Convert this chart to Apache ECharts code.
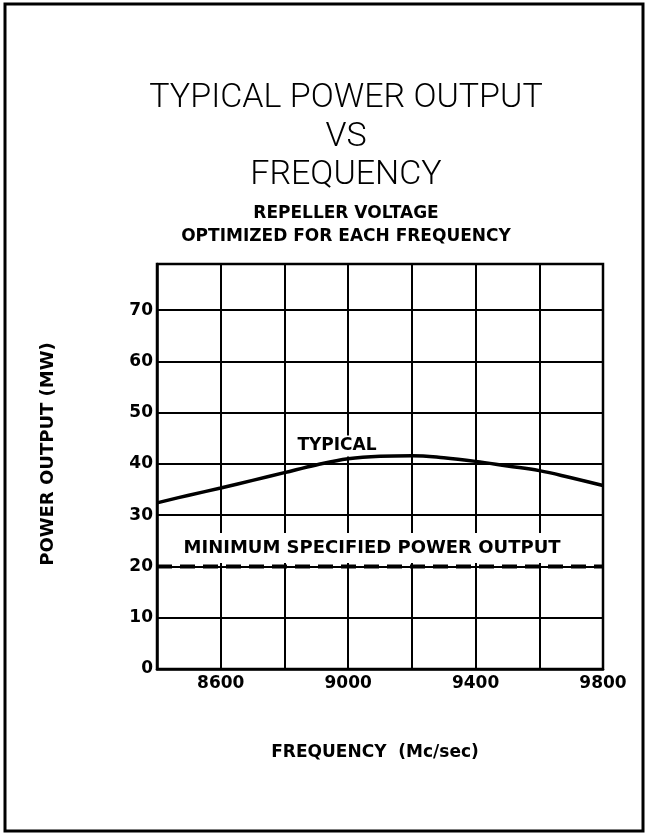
<!DOCTYPE html>
<html>
<head>
<meta charset="utf-8">
<script src="https://cdn.jsdelivr.net/npm/echarts@6/dist/echarts.min.js"></script>
<style>
html,body{margin:0;padding:0;background:#fff;}
#chart{width:648px;height:835px;}
</style>
</head>
<body>
<div id="chart"></div>
<script>
// Data
var typicalFreq = [8400, 8500, 8600, 8700, 8800, 8900, 9000, 9100, 9200, 9300, 9400, 9500, 9600, 9700, 9800];
var typicalPower = [32.4, 33.9, 35.3, 36.8, 38.3, 39.8, 41.0, 41.5, 41.6, 41.2, 40.5, 39.6, 38.7, 37.3, 35.8];
var minFreq = [8400, 9800];
var minPower = [20, 20];
var xTickLabels = [8600, 9000, 9400, 9800];
var yTickLabels = [0, 10, 20, 30, 40, 50, 60, 70];
var titleLines = ['TYPICAL POWER OUTPUT', 'VS', 'FREQUENCY'];
var subtitleLines = ['REPELLER VOLTAGE', 'OPTIMIZED FOR EACH FREQUENCY'];
var yAxisTitle = 'POWER OUTPUT (MW)';
var xAxisTitle = 'FREQUENCY  (Mc/sec)';
var typicalLabel = {text: 'TYPICAL', freq: 8965, power: 43.5};
var minLabel = {text: 'MINIMUM SPECIFIED POWER OUTPUT', freq: 9075, power: 23.6};

var chart = echarts.init(document.getElementById('chart'), null, {renderer: 'canvas'});
var boldFont = 'DejaVu Sans';

function zip(a, b) { return a.map(function (v, i) { return [v, b[i]]; }); }

var graphics = [
  {type: 'rect', shape: {x: 5, y: 4, width: 638, height: 827}, style: {fill: 'none', stroke: '#000', lineWidth: 3}, silent: true}
];
var titleY = [98, 137, 175];
titleLines.forEach(function (t, i) {
  graphics.push({type: 'text', x: 346, y: titleY[i], style: {text: t, fill: '#000', font: '300 34px Roboto', textAlign: 'center', textVerticalAlign: 'middle'}});
});
var subY = [214, 237];
subtitleLines.forEach(function (t, i) {
  graphics.push({type: 'text', x: 346, y: subY[i], style: {text: t, fill: '#000', font: 'bold 17px "DejaVu Sans"', textAlign: 'center', textVerticalAlign: 'middle'}});
});
graphics.push({type: 'text', x: 48, y: 454, rotation: Math.PI / 2, style: {text: yAxisTitle, fill: '#000', font: 'bold 18px "DejaVu Sans"', textAlign: 'center', textVerticalAlign: 'middle'}});

var option = {
  backgroundColor: '#fff',
  animation: false,
  graphic: graphics,
  grid: {left: 157, right: 45, top: 264, bottom: 166, show: true, borderColor: '#000', borderWidth: 2.5, backgroundColor: 'transparent'},
  xAxis: {
    type: 'value', min: 8400, max: 9800, interval: 200,
    name: xAxisTitle, nameLocation: 'middle', nameGap: 75,
    nameTextStyle: {color: '#000', fontFamily: boldFont, fontWeight: 'bold', fontSize: 17, padding: [0, 10, 0, 0]},
    axisLine: {show: true, lineStyle: {color: '#000', width: 2.5}},
    axisTick: {show: false},
    splitLine: {show: true, lineStyle: {color: '#000', width: 2}},
    axisLabel: {
      color: '#000', fontFamily: boldFont, fontWeight: 'bold', fontSize: 17, margin: 6,
      showMaxLabel: true, showMinLabel: true,
      formatter: function (v) { return xTickLabels.indexOf(v) >= 0 ? String(v) : ''; }
    }
  },
  yAxis: {
    type: 'value', min: 0, max: 79, interval: 10,
    axisLine: {show: true, lineStyle: {color: '#000', width: 2.5}},
    axisTick: {show: false},
    splitLine: {show: true, lineStyle: {color: '#000', width: 2}},
    axisLabel: {
      color: '#000', fontFamily: boldFont, fontWeight: 'bold', fontSize: 17, margin: 4,
      formatter: function (v) { return yTickLabels.indexOf(v) >= 0 ? String(v) : ''; }
    }
  },
  series: [
    {
      type: 'line', name: 'typical', data: zip(typicalFreq, typicalPower), smooth: 0.4,
      showSymbol: false, symbol: 'none', lineStyle: {color: '#000', width: 3.5}, z: 5,
      markPoint: {
        symbol: 'rect', symbolSize: 1, itemStyle: {color: 'transparent'},
        label: {show: true, position: 'inside', color: '#000', fontFamily: boldFont, fontWeight: 'bold', fontSize: 17, backgroundColor: '#fff', padding: [2, 3]},
        data: [
          {coord: [typicalLabel.freq, typicalLabel.power], value: typicalLabel.text, label: {formatter: typicalLabel.text}},
          {coord: [minLabel.freq, minLabel.power], value: minLabel.text, label: {formatter: minLabel.text, fontSize: 18, padding: [6, 4]}}
        ]
      }
    },
    {
      type: 'line', name: 'minimum', data: zip(minFreq, minPower),
      showSymbol: false, symbol: 'none', lineStyle: {color: '#000', width: 4, type: [15, 8]}, z: 6
    }
  ]
};
chart.setOption(option);
</script>
</body>
</html>
